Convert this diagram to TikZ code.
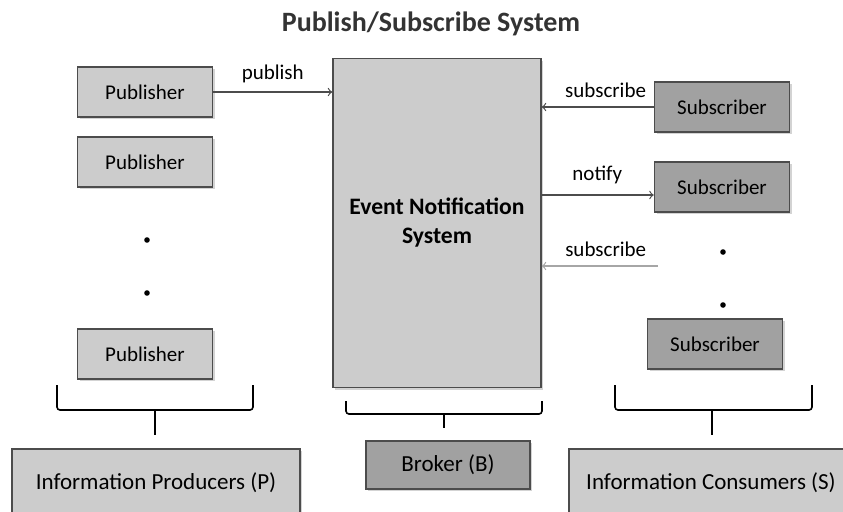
\documentclass[tikz,border=0pt]{standalone}
\usepackage{fontspec}
\setmainfont{Carlito}
\usetikzlibrary{shadows}
\definecolor{lightbox}{gray}{0.80}
\definecolor{darkbox}{gray}{0.63}
\definecolor{framegray}{gray}{0.30}
\begin{document}
\begin{tikzpicture}[x=0.5pt,y=-0.5pt,
  box/.style={draw=framegray,line width=0.8pt,fill=lightbox,minimum width=67.5pt,minimum height=25pt,
    font=\fontsize{10.5}{12}\selectfont,
    drop shadow={shadow xshift=1.2pt,shadow yshift=-1.2pt,opacity=0.35}},
  darkbox/.style={box,fill=darkbox},
  lbl/.style={font=\fontsize{10.5}{12}\selectfont},
  conn/.style={->,line width=0.6pt},
  brace/.style={draw,line width=0.8pt,rounded corners=1.5pt}]
\def\dotsz{1.4pt}

\useasboundingbox (0,0) rectangle (843,511);
\clip (0,0) rectangle (843,511);

\node[font=\bfseries\fontsize{14}{16}\selectfont,text=black!80] (T) at (431,24) {Publish/Subscribe System};

% publishers
\node[box] (P1) at (145,92) {Publisher};
\node[box] (P2) at (145,162) {Publisher};
\node[box] (P3) at (145,354) {Publisher};
\fill (147,240) circle (\dotsz);
\fill (147,293) circle (\dotsz);

% broker
\node[box,minimum width=104pt,minimum height=164.5pt,font=\bfseries\fontsize{11.8}{14.5}\selectfont,align=center] (E) at (437,223) {Event Notification\\System};

% subscribers
\node[darkbox] (S1) at (722,107) {Subscriber};
\node[darkbox] (S2) at (722,187) {Subscriber};
\node[darkbox] (S3) at (715,344) {Subscriber};
\fill (723,252) circle (\dotsz);
\fill (723,305) circle (\dotsz);

\coordinate (N) at (541,195);
\coordinate (Q) at (658,266);

\draw[conn,framegray] (P1) -- (P1 -| E.west) node[lbl,midway,above=1pt,text=black] {publish};
\draw[conn,framegray] (S1) -- (S1 -| E.east) node[lbl,pos=0.43,above=1pt,text=black] {subscribe};
\draw[conn,framegray] (N) -- (N -| S2.west) node[lbl,midway,above=2pt,text=black] {notify};
\draw[conn,black!35] (Q) -- (Q -| E.east) node[lbl,pos=0.45,above=1pt,text=black] {subscribe};

% braces
\draw[brace] (57,385) -- (57,410) -- (253,410) -- (253,385);
\draw[brace] (155,410) -- (155,435);
\draw[brace] (346,401) -- (346,414) -- (542,414) -- (542,401);
\draw[brace] (444,414) -- (444,428);
\draw[brace] (615,385) -- (615,410) -- (812,410) -- (812,385);
\draw[brace] (712,410) -- (712,435);

% bottom labels
\node[box,minimum width=144pt,minimum height=34pt,font=\fontsize{11.5}{13}\selectfont] (IP) at (156,483) {Information Producers (P)};
\node[darkbox,minimum width=82pt,minimum height=24pt,font=\fontsize{11.5}{13}\selectfont] (BR) at (448,465) {Broker (B)};
\node[box,minimum width=142pt,minimum height=34pt,font=\fontsize{11.5}{13}\selectfont] (IC) at (711,483) {Information Consumers (S)};
\end{tikzpicture}
\end{document}
